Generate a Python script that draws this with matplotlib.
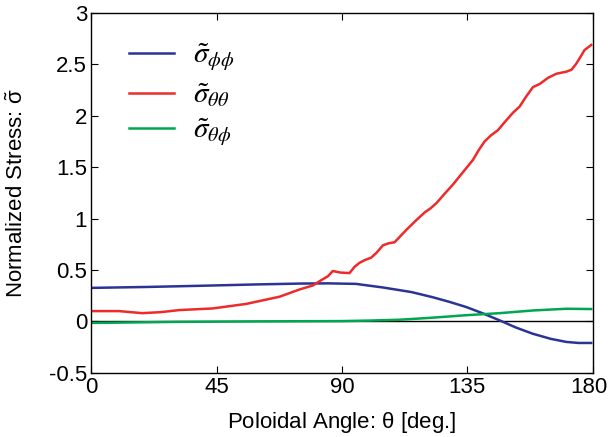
import matplotlib
matplotlib.use("Agg")
import matplotlib.pyplot as plt
import matplotlib.transforms as mtransforms
import numpy as np

plt.rcParams['font.family'] = ['Liberation Sans', 'DejaVu Sans']
plt.rcParams['mathtext.fontset'] = 'stix'

# Data
theta_tt = [0, 10, 18.3, 25, 31.6, 43.6, 55.6, 67.6, 74.7, 79.6, 82.5, 85.0, 86.7, 89.5, 92.7,
            94.5, 96.3, 98.5, 100.5, 102.5, 104.7, 106.8, 108.9, 111.0, 113.1, 116.5, 119.7,
            121.8, 123.9, 126.8, 129.8, 133.4, 137.0, 139.2, 141.2, 143.5, 146.0, 148.8,
            151.4, 153.8, 156.2, 158.6, 161.0, 164.0, 167.0, 170.6, 172.5, 174.2, 175.8,
            177.1, 179.5]
sigma_tt = [0.10, 0.10, 0.08, 0.09, 0.11, 0.126, 0.17, 0.24, 0.31, 0.35, 0.40, 0.44, 0.49,
            0.475, 0.47, 0.53, 0.57, 0.60, 0.62, 0.67, 0.74, 0.76, 0.77, 0.83, 0.89, 0.98, 1.06,
            1.10, 1.15, 1.24, 1.33, 1.45, 1.57, 1.67, 1.75, 1.81, 1.86, 1.95, 2.03, 2.09,
            2.19, 2.28, 2.31, 2.37, 2.41, 2.43, 2.45, 2.51, 2.58, 2.64, 2.69]

theta_pp = [0, 20, 40, 60, 75, 85, 95, 104.7, 115, 122.6, 128.6, 134.6, 140.6, 146.6, 152.5,
            158.5, 165, 170.6, 175, 179.5]
sigma_pp = [0.326, 0.335, 0.347, 0.360, 0.368, 0.370, 0.365, 0.33, 0.285, 0.235, 0.19, 0.14,
            0.078, 0.01, -0.06, -0.12, -0.17, -0.20, -0.21, -0.21]

theta_tp = [0, 10, 30, 60, 90, 100, 110.7, 122, 134.6, 146.6, 158.5, 170.6, 179.5]
sigma_tp = [-0.015, -0.012, -0.005, 0.0, 0.003, 0.008, 0.016, 0.035, 0.06, 0.08, 0.106, 0.123, 0.12]

x_ticks = [0, 45, 90, 135, 180]
y_ticks = [-0.5, 0, 0.5, 1, 1.5, 2, 2.5, 3]
y_tick_labels = ['-0.5', '0', '0.5', '1', '1.5', '2', '2.5', '3']

fig = plt.figure(figsize=(6.09, 4.37), dpi=100)
ax = fig.add_axes([0.150, 0.147, 0.823, 0.823])

ax.axhline(0, color='black', lw=1.0, zorder=1)
ax.plot(theta_pp, sigma_pp, color='#2b3494', lw=1.8, label=r'$\tilde{\sigma}_{\phi\phi}$')
ax.plot(theta_tt, sigma_tt, color='#ee2a2a', lw=1.8, label=r'$\tilde{\sigma}_{\theta\theta}$')
ax.plot(theta_tp, sigma_tp, color='#00a650', lw=1.8, label=r'$\tilde{\sigma}_{\theta\phi}$')

ax.set_xlim(0, 180)
ax.set_ylim(-0.5, 3)
ax.set_xticks(x_ticks)
ax.set_yticks(y_ticks)
ax.set_yticklabels(y_tick_labels)
ax.tick_params(direction='in', top=True, right=True, labelsize=16, length=5, width=0.8, pad=3)
for s in ax.spines.values():
    s.set_linewidth(1.0)

# keep the last x tick label inside the figure (as in the reference)
last = ax.get_xticklabels()[-1]
last.set_transform(last.get_transform() +
                   mtransforms.ScaledTranslation(-4 / 100, 0, fig.dpi_scale_trans))

ax.set_xlabel(r'Poloidal Angle: $\mathregular{\theta}$ [deg.]', fontsize=16, labelpad=9)
ax.set_ylabel(r'Normalized Stress: $\mathregular{\tilde{\sigma}}$', fontsize=16, labelpad=15)

leg = ax.legend(loc='upper left', bbox_to_anchor=(0.023, 0.994), frameon=False,
                fontsize=21, handlelength=1.55, handletextpad=0.65, labelspacing=0.25)

fig.savefig('out.png', dpi=100)
